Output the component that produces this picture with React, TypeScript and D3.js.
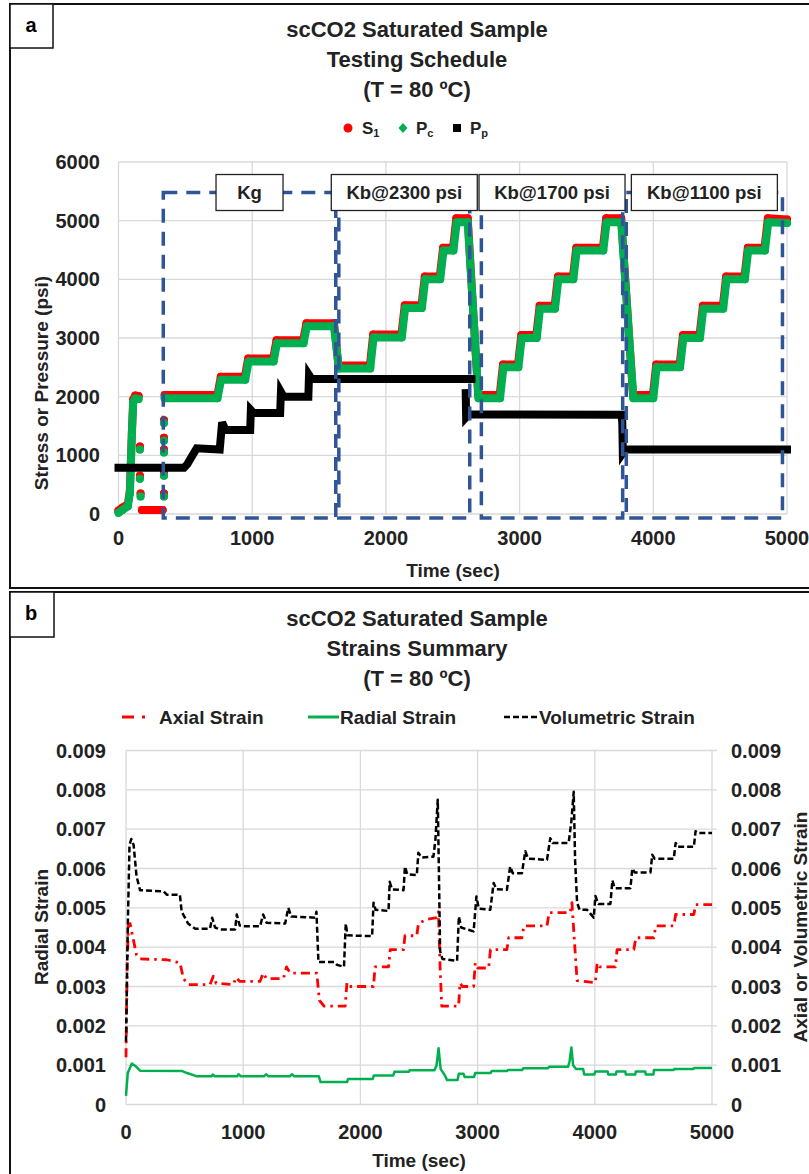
import React from "react";
import * as d3 from "d3";

type P = [number, number] | null;

// ---------- Panel a data (time s, psi) ----------
const S1: P[] = [
  [0, 60], [30, 110], [70, 170], [85, 400], [100, 1400], [110, 1950], [125, 2020], [150, 2010], null,
  [160, 1150], null, [160, 650], null, [165, 350], null,
  [175, 70], [330, 70], null,
  [340, 350], null, [340, 700], null, [340, 1100], null, [340, 1300], null, [340, 1600], null,
  [345, 2030], [740, 2030], [765, 2340], [945, 2340], [970, 2650], [1157, 2650], [1182, 2960], [1381, 2960],
  [1406, 3250], [1612, 3250], [1645, 2530], [1880, 2530], [1905, 3060], [2116, 3060], [2141, 3560], [2266, 3560],
  [2291, 4050], [2403, 4050], [2428, 4540], [2502, 4540], [2527, 5040], [2612, 5040], [2690, 2030], [2851, 2030],
  [2876, 2550], [2988, 2550], [3013, 3050], [3125, 3050], [3150, 3550], [3262, 3550], [3287, 4050], [3399, 4050],
  [3424, 4540], [3623, 4540], [3648, 5040], [3760, 5040], [3848, 2030], [3997, 2030], [4022, 2550], [4197, 2550],
  [4222, 3050], [4346, 3050], [4371, 3550], [4520, 3550], [4545, 4050], [4682, 4050], [4707, 4540], [4832, 4540],
  [4857, 5040], [5000, 5020],
];

const PC: P[] = [
  [0, 20], [30, 70], [70, 130], [85, 350], [100, 1350], [110, 1900], [125, 1970], [150, 1960], null,
  [160, 1100], null, [160, 600], null, [165, 300], null,
  [340, 300], null, [340, 650], null, [340, 1050], null, [340, 1250], null, [340, 1550], null,
  [345, 1975], [740, 1975], [768, 2290], [948, 2290], [973, 2600], [1160, 2600], [1185, 2910], [1384, 2910],
  [1409, 3200], [1612, 3200], [1648, 2480], [1883, 2480], [1908, 3010], [2119, 3010], [2144, 3510], [2269, 3510],
  [2294, 4000], [2406, 4000], [2431, 4490], [2505, 4490], [2530, 4975], [2612, 4975], [2693, 1975], [2854, 1975],
  [2879, 2500], [2991, 2500], [3016, 3000], [3128, 3000], [3153, 3500], [3265, 3500], [3290, 4000], [3402, 4000],
  [3427, 4490], [3626, 4490], [3651, 4975], [3760, 4975], [3851, 1975], [4000, 1975], [4025, 2500], [4200, 2500],
  [4225, 3000], [4349, 3000], [4374, 3500], [4523, 3500], [4548, 4000], [4685, 4000], [4710, 4490], [4835, 4490],
  [4860, 4975], [5000, 4960],
];

const PP: P[] = [
  [0, 790], [490, 790], [515, 850], [585, 1120], [757, 1100], [775, 1560], [800, 1430], [985, 1430],
  [990, 1770], [1010, 1720], [1209, 1720], [1215, 2080], [1235, 2000], [1420, 2000], [1425, 2370], [1445, 2300],
  [2640, 2300], null,
  [2597, 2060], [2600, 1650], [2620, 1700], [3762, 1690], [3768, 1560], [3772, 1040], [3790, 1100], [5000, 1100],
];

const phaseNames = ["Kg", "Kb@2300 psi", "Kb@1700 psi", "Kb@1100 psi"];
const phaseStart = [335, 1648, 2714, 3798];
const phaseEnd = [1625, 2627, 3771, 4966];
const phaseTop = 5480;
const phaseBottom = -70;

const stressTicks = [0, 1000, 2000, 3000, 4000, 5000, 6000];
const timeTicks = [0, 1000, 2000, 3000, 4000, 5000];
const strainTicks = [0, 0.001, 0.002, 0.003, 0.004, 0.005, 0.006, 0.007, 0.008, 0.009];

// ---------- Panel b data (time s, strain x 1e-3) ----------
const volumetric: [number, number][] = [
  [0, 1.6], [15, 4.5], [30, 6.6], [45, 6.75], [65, 6.6], [90, 5.8], [120, 5.45], [320, 5.42], [350, 5.33], [460, 5.33],
  [475, 4.9], [530, 4.6], [590, 4.47], [717, 4.47], [735, 4.75], [760, 4.5], [803, 4.45], [931, 4.45], [945, 4.83],
  [970, 4.55], [1002, 4.53], [1144, 4.53], [1170, 4.83], [1200, 4.62], [1358, 4.6], [1385, 5.0], [1410, 4.78],
  [1614, 4.75], [1625, 4.9], [1642, 3.62], [1780, 3.62], [1800, 3.55], [1860, 3.5], [1875, 4.6], [1890, 4.3],
  [2100, 4.28], [2112, 5.13], [2130, 4.95], [2240, 4.92], [2250, 5.66], [2270, 5.47], [2368, 5.45], [2380, 6.05],
  [2400, 5.85], [2481, 5.83], [2495, 6.4], [2520, 6.28], [2623, 6.3], [2640, 6.73], [2660, 7.75], [2672, 5.5],
  [2680, 3.9], [2700, 3.7], [2825, 3.65], [2840, 4.78], [2860, 4.5], [2966, 4.4], [2990, 5.29], [3010, 4.98],
  [3108, 4.95], [3137, 5.63], [3160, 5.47], [3250, 5.46], [3278, 6.05], [3300, 5.88], [3378, 5.88], [3407, 6.44],
  [3430, 6.25], [3592, 6.22], [3620, 6.77], [3640, 6.65], [3777, 6.65], [3800, 7.2], [3820, 7.95], [3832, 6.2],
  [3849, 5.13], [3870, 4.95], [3934, 4.95], [3991, 4.75], [4005, 5.3], [4030, 5.1], [4133, 5.1], [4150, 5.7],
  [4170, 5.5], [4304, 5.5], [4320, 6.0], [4340, 5.9], [4475, 5.9], [4490, 6.35], [4510, 6.25], [4674, 6.25],
  [4690, 6.65], [4710, 6.55], [4845, 6.55], [4860, 6.95], [4880, 6.9], [5000, 6.9],
];

const axial: [number, number][] = [
  [0, 1.2], [10, 3.5], [20, 4.55], [35, 4.6], [55, 4.3], [90, 3.8], [120, 3.7], [347, 3.68], [461, 3.6], [490, 3.2],
  [530, 3.05], [717, 3.05], [745, 3.26], [770, 3.08], [916, 3.05], [940, 3.23], [970, 3.13], [1144, 3.13],
  [1170, 3.34], [1200, 3.2], [1343, 3.2], [1370, 3.5], [1400, 3.34], [1628, 3.34], [1650, 2.65], [1690, 2.5],
  [1870, 2.5], [1885, 3.09], [1900, 3.0], [2112, 3.0], [2125, 3.5], [2240, 3.5], [2255, 3.94], [2368, 3.94],
  [2380, 4.29], [2481, 4.29], [2495, 4.6], [2560, 4.7], [2652, 4.75], [2666, 4.9], [2680, 3.5], [2694, 2.5],
  [2838, 2.5], [2850, 3.09], [2870, 3.0], [2966, 3.0], [2980, 3.6], [3000, 3.47], [3094, 3.47], [3110, 3.94],
  [3250, 3.94], [3265, 4.24], [3378, 4.24], [3395, 4.54], [3592, 4.54], [3610, 4.88], [3791, 4.88], [3805, 5.13],
  [3825, 4.2], [3849, 3.15], [4005, 3.1], [4020, 3.6], [4040, 3.5], [4176, 3.5], [4190, 3.94], [4333, 3.94],
  [4350, 4.24], [4504, 4.24], [4520, 4.54], [4674, 4.54], [4690, 4.83], [4845, 4.83], [4860, 5.08], [5000, 5.08],
];

const radial: [number, number][] = [
  [0, 0.22], [15, 0.8], [50, 1.04], [80, 0.98], [120, 0.86], [480, 0.85], [520, 0.8], [600, 0.72], [730, 0.72],
  [740, 0.76], [760, 0.72], [950, 0.72], [960, 0.77], [980, 0.72], [1180, 0.72], [1195, 0.77], [1215, 0.72],
  [1400, 0.72], [1415, 0.77], [1435, 0.72], [1645, 0.72], [1660, 0.57], [1886, 0.57], [1895, 0.65], [2105, 0.65],
  [2115, 0.74], [2281, 0.74], [2290, 0.83], [2412, 0.83], [2420, 0.87], [2632, 0.87], [2650, 1.0], [2667, 1.43],
  [2685, 0.9], [2719, 0.75], [2740, 0.62], [2829, 0.62], [2840, 0.78], [2880, 0.78], [2890, 0.7], [2970, 0.7],
  [2980, 0.8], [3110, 0.8], [3120, 0.85], [3250, 0.85], [3260, 0.88], [3380, 0.88], [3390, 0.92], [3600, 0.92],
  [3610, 0.96], [3772, 0.96], [3785, 1.1], [3800, 1.45], [3815, 1.0], [3840, 0.9], [3900, 0.9], [3910, 0.76],
  [3995, 0.76], [4005, 0.84], [4110, 0.84], [4115, 0.76], [4180, 0.76], [4185, 0.84], [4260, 0.84], [4265, 0.76],
  [4345, 0.76], [4350, 0.84], [4430, 0.84], [4435, 0.76], [4500, 0.76], [4505, 0.88], [4670, 0.88], [4680, 0.9],
  [4840, 0.9], [4850, 0.93], [5000, 0.93],
];

const FONT = "'Liberation Sans', Arial, sans-serif";
const BLUE = "#2F5597";
const GRID = "#d9d9d9";

export default function App() {
  const xA = d3.scaleLinear().domain([0, 5000]).range([118.5, 787]);
  const yA = d3.scaleLinear().domain([0, 6000]).range([514, 162]);
  const xB = d3.scaleLinear().domain([0, 5000]).range([126, 712]);
  const yB = d3.scaleLinear().domain([0, 0.009]).range([1104.5, 750.5]);

  const lineA = d3
    .line<P>()
    .defined((d) => d !== null)
    .x((d) => xA((d as [number, number])[0]))
    .y((d) => yA((d as [number, number])[1]));
  const lineB = d3
    .line<[number, number]>()
    .x((d) => xB(d[0]))
    .y((d) => yB(d[1] / 1000));

  const pts = (arr: P[]) => arr.filter((d) => d !== null) as [number, number][];

  const title = (lines: string[], y0: number, cx: number) =>
    lines.map((t, i) => (
      <text key={i} x={cx} y={y0 + i * 30} textAnchor="middle" dominantBaseline="central"
        fontSize={22} fontWeight="bold" fill="#222">{t}</text>
    ));

  return (
    <svg width={809} height={1174} style={{ position: "absolute", left: 0, top: 0, background: "#fff" }}
      fontFamily={FONT}>
      <rect x={0} y={0} width={809} height={1174} fill="#fff" />
      {/* frames */}
      <rect x={10} y={4} width={820} height={584} fill="none" stroke="#111" strokeWidth={2} />
      <rect x={10} y={592} width={820} height={600} fill="none" stroke="#111" strokeWidth={2} />
      <rect x={10} y={4} width={43} height={44} fill="#fff" stroke="#111" strokeWidth={1.5} />
      <text x={31} y={25} textAnchor="middle" dominantBaseline="central" fontSize={20} fontWeight="bold">a</text>
      <rect x={10} y={592} width={44} height={45} fill="#fff" stroke="#111" strokeWidth={1.5} />
      <text x={31} y={613} textAnchor="middle" dominantBaseline="central" fontSize={20} fontWeight="bold">b</text>

      {/* ---------------- Panel a ---------------- */}
      {title(["scCO2 Saturated Sample", "Testing Schedule", "(T = 80 ºC)"], 29, 417)}
      {/* legend */}
      <g fontWeight="bold" fill="#222">
        <circle cx={348} cy={128} r={4.5} fill="#ff0000" />
        <text x={362} y={128} dominantBaseline="central" fontSize={17}>S<tspan fontSize={11} dy={5}>1</tspan></text>
        <path d="M403,123 L407.5,128 L403,133 L398.5,128 Z" fill="#00b050" />
        <text x={416} y={128} dominantBaseline="central" fontSize={17}>P<tspan fontSize={11} dy={5}>c</tspan></text>
        <rect x={453} y={124} width={8} height={8} fill="#000" />
        <text x={470} y={128} dominantBaseline="central" fontSize={17}>P<tspan fontSize={11} dy={5}>p</tspan></text>
      </g>
      {/* grid */}
      {stressTicks.map((v) => (
        <line key={"ga" + v} x1={xA(0)} x2={xA(5000)} y1={yA(v)} y2={yA(v)} stroke={GRID} strokeWidth={1.3} />
      ))}
      {timeTicks.map((v) => (
        <line key={"gx" + v} x1={xA(v)} x2={xA(v)} y1={yA(0)} y2={yA(6000)} stroke={GRID} strokeWidth={1.3} />
      ))}
      {stressTicks.map((v) => (
        <text key={"ta" + v} x={100} y={yA(v)} textAnchor="end" dominantBaseline="central" fontSize={20}
          fontWeight="bold" fill="#222">{v}</text>
      ))}
      {timeTicks.map((v) => (
        <text key={"tx" + v} x={xA(v)} y={538} textAnchor="middle" dominantBaseline="central" fontSize={20}
          fontWeight="bold" fill="#222">{v}</text>
      ))}
      <text x={453} y={570} textAnchor="middle" dominantBaseline="central" fontSize={19} fontWeight="bold" fill="#222">Time (sec)</text>
      <text transform="translate(41,383) rotate(-90)" textAnchor="middle" dominantBaseline="central" fontSize={19}
        fontWeight="bold" fill="#222">Stress or Pressure (psi)</text>

      {/* series */}
      <path d={lineA(S1) || ""} fill="none" stroke="#ff0000" strokeWidth={8} strokeLinejoin="round" strokeLinecap="round" />
      {pts(S1).map((d, i) => (
        <circle key={"s" + i} cx={xA(d[0])} cy={yA(d[1])} r={4} fill="#ff0000" />
      ))}
      <path d={lineA(PC) || ""} fill="none" stroke="#00b050" strokeWidth={8} strokeLinejoin="round" strokeLinecap="round" />
      {pts(PC).map((d, i) => (
        <circle key={"p" + i} cx={xA(d[0])} cy={yA(d[1])} r={4} fill="#00b050" />
      ))}
      <path d={lineA(PP) || ""} fill="none" stroke="#000" strokeWidth={8} strokeLinejoin="miter" strokeLinecap="square" />

      {/* phase boxes */}
      {phaseNames.map((n, i) => (
        <rect key={"pb" + i} x={xA(phaseStart[i])} y={yA(phaseTop)} width={xA(phaseEnd[i]) - xA(phaseStart[i])}
          height={yA(phaseBottom) - yA(phaseTop)} fill="none" stroke={BLUE} strokeWidth={3.5} strokeDasharray="14,9" />
      ))}
      {phaseNames.map((n, i) => {
        const cx = xA((phaseStart[i] + phaseEnd[i]) / 2);
        const w = i === 0 ? 67 : 146;
        return (
          <g key={"pl" + i}>
            <rect x={cx - w / 2} y={yA(phaseTop) - 18} width={w} height={36} fill="#fff" stroke="#222" strokeWidth={1.3} />
            <text x={cx} y={yA(phaseTop)} textAnchor="middle" dominantBaseline="central" fontSize={18.5}
              fontWeight="bold" fill="#222">{n}</text>
          </g>
        );
      })}

      {/* ---------------- Panel b ---------------- */}
      {title(["scCO2 Saturated Sample", "Strains Summary", "(T = 80 ºC)"], 618, 417)}
      <g fontWeight="bold" fill="#222" fontSize={19}>
        <line x1={122} x2={134} y1={717} y2={717} stroke="#ff0000" strokeWidth={3} />
        <line x1={142} x2={145} y1={717} y2={717} stroke="#ff0000" strokeWidth={3} />
        <text x={159} y={717} dominantBaseline="central">Axial Strain</text>
        <line x1={308} x2={339} y1={717} y2={717} stroke="#00b050" strokeWidth={3} />
        <text x={340} y={717} dominantBaseline="central">Radial Strain</text>
        <line x1={504} x2={537} y1={717} y2={717} stroke="#000" strokeWidth={2.5} strokeDasharray="6,3" />
        <text x={539} y={717} dominantBaseline="central">Volumetric Strain</text>
      </g>
      {strainTicks.map((v) => (
        <line key={"gb" + v} x1={xB(0)} x2={xB(5000) + 5} y1={yB(v)} y2={yB(v)} stroke={GRID} strokeWidth={1.3} />
      ))}
      {timeTicks.map((v) => (
        <line key={"gbx" + v} x1={xB(v)} x2={xB(v)} y1={yB(0)} y2={yB(0.009)} stroke={GRID} strokeWidth={1.3} />
      ))}
      {strainTicks.map((v) => (
        <text key={"lb" + v} x={106} y={yB(v)} textAnchor="end" dominantBaseline="central" fontSize={20}
          fontWeight="bold" fill="#222">{v === 0 ? "0" : v.toFixed(3)}</text>
      ))}
      {strainTicks.map((v) => (
        <text key={"rb" + v} x={731} y={yB(v)} textAnchor="start" dominantBaseline="central" fontSize={20}
          fontWeight="bold" fill="#222">{v === 0 ? "0" : v.toFixed(3)}</text>
      ))}
      {timeTicks.map((v) => (
        <text key={"bx" + v} x={xB(v)} y={1132} textAnchor="middle" dominantBaseline="central" fontSize={20}
          fontWeight="bold" fill="#222">{v}</text>
      ))}
      <text x={419} y={1160} textAnchor="middle" dominantBaseline="central" fontSize={19} fontWeight="bold" fill="#222">Time (sec)</text>
      <text transform="translate(41,927) rotate(-90)" textAnchor="middle" dominantBaseline="central" fontSize={19}
        fontWeight="bold" fill="#222">Radial Strain</text>
      <text transform="translate(800,927) rotate(-90)" textAnchor="middle" dominantBaseline="central" fontSize={19}
        fontWeight="bold" fill="#222">Axial or Volumetric Strain</text>

      <path d={lineB(radial) || ""} fill="none" stroke="#00b050" strokeWidth={2.5} strokeLinejoin="round" />
      <path d={lineB(axial) || ""} fill="none" stroke="#ff0000" strokeWidth={2.8} strokeDasharray="9,5,2.5,5" strokeLinejoin="round" />
      <path d={lineB(volumetric) || ""} fill="none" stroke="#000" strokeWidth={2.5} strokeDasharray="6,3" strokeLinejoin="round" />
    </svg>
  );
}
